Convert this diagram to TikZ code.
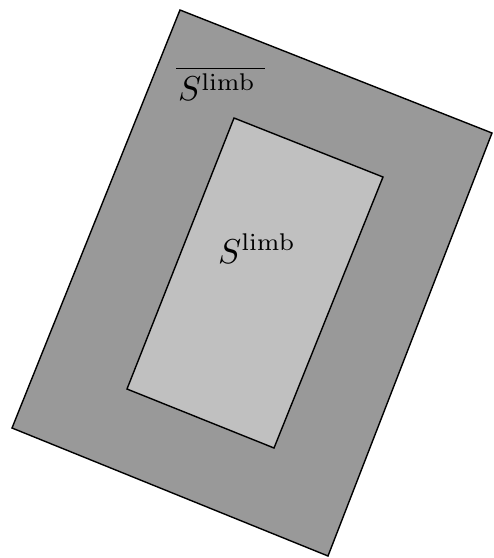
\documentclass[tikz,border=0pt]{standalone}
\usepackage{graphicx}
\begin{document}
\begin{tikzpicture}[x=1pt,y=-1pt,
  region/.style={draw=black, line width=1.4pt, line join=miter},
  lbl/.style={inner sep=0pt, anchor=base west}]
\useasboundingbox (0,0) rectangle (494,558);
\definecolor{outergray}{RGB}{153,153,153}
\definecolor{innergray}{RGB}{192,192,192}
\coordinate (o1) at (180,10);
\coordinate (o2) at (492,133);
\coordinate (o3) at (328,556);
\coordinate (o4) at (12,428);
\coordinate (i1) at (234,118);
\coordinate (i2) at (383,177);
\coordinate (i3) at (274,448);
\coordinate (i4) at (127,389);
\draw[region, fill=outergray] (o1) -- (o2) -- (o3) -- (o4) -- cycle;
\draw[region, fill=innergray] (i1) -- (i2) -- (i3) -- (i4) -- cycle;
\node[lbl] (outerlabel) at (176,100) {\scalebox{3.45}{$\overline{\mkern1mu S^{\mathrm{limb}}\mkern5mu}$}};
\node[lbl] (innerlabel) at (218,263) {\scalebox{3.45}{$S^{\mathrm{limb}}$}};
\end{tikzpicture}
\end{document}
